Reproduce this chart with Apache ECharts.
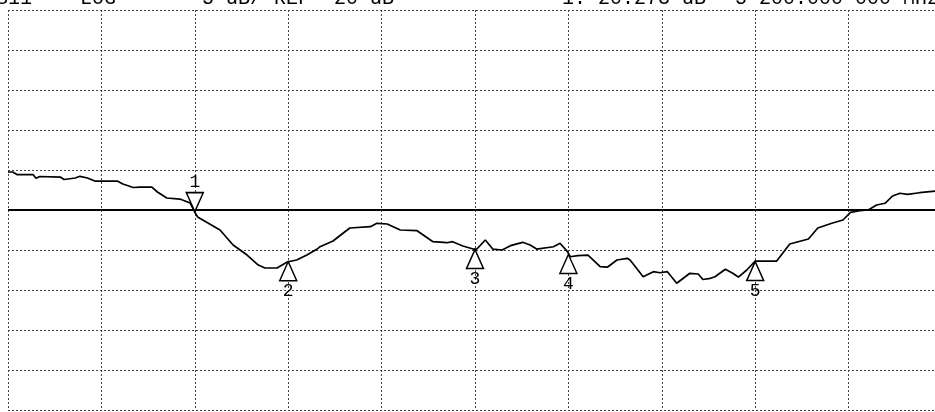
<!DOCTYPE html>
<html>
<head>
<meta charset="utf-8">
<script src="https://cdn.jsdelivr.net/npm/echarts@6/dist/echarts.min.js"></script>
<style>
html,body{margin:0;padding:0;background:#fff;}
#chart{width:935px;height:412px;}
</style>
</head>
<body>
<div id="chart"></div>
<script>
// Frequency axis (MHz) and S11 trace (dB)
var freqMHz = [5000,5005,5010,5027,5030,5034,5056,5060,5072,5077,5085,5093,5117,5123,5134,5141,5154,5160,5170,5184,5195,5200,5203,5227,5241,5256,5268,5275,5288,5299,5309,5320,5331,5334,5348,5359,5366,5388,5395,5406,5420,5438,5455,5470,5476,5487,5498,5502,5511,5519,5529,5538,5551,5559,5566,5584,5591,5599,5602,5610,5621,5634,5642,5652,5663,5666,5673,5680,5691,5698,5706,5716,5730,5739,5744,5752,5757,5768,5776,5782,5791,5800,5805,5823,5837,5857,5867,5882,5894,5902,5912,5921,5930,5939,5947,5955,5963,5976,5993,6000];
var s11dB = [-15.25,-15.25,-15.59,-15.59,-16.04,-15.81,-15.88,-16.19,-16.0,-15.79,-16.0,-16.38,-16.38,-16.75,-17.19,-17.13,-17.13,-17.75,-18.5,-18.63,-19.13,-20.27,-20.88,-22.5,-24.38,-25.63,-26.88,-27.25,-27.25,-26.5,-26.25,-25.63,-24.88,-24.59,-23.88,-22.88,-22.25,-22.09,-21.66,-21.75,-22.5,-22.59,-23.96,-24.09,-23.96,-24.5,-24.88,-24.88,-23.75,-24.88,-25.0,-24.46,-24.04,-24.38,-24.88,-24.59,-24.16,-25.21,-25.84,-25.71,-25.63,-27.09,-27.13,-26.25,-26.04,-26.25,-27.29,-28.34,-27.71,-27.84,-27.71,-29.16,-27.91,-28.0,-28.69,-28.54,-28.34,-27.41,-27.91,-28.38,-27.5,-26.38,-26.38,-26.38,-24.25,-23.63,-22.25,-21.66,-21.25,-20.29,-20.09,-20.0,-19.38,-19.16,-18.25,-17.91,-18.04,-17.84,-17.63,-17.6];

// Markers
var markerNames = ['1','2','3','4','5'];
var markerFreq = [5200,5300,5500,5600,5800];
var markerVal = [-20.27,-26.4,-24.88,-25.5,-26.38];

// Header texts
var headerTexts = ['S11','LOG','5 dB/ REF -20 dB','1:-20.273 dB','5 200.000 000 MHz'];
var headerX = [-4, 80, 202, 562, 735];

var refLevel = -20;
var xMin = 5000, xMax = 6000, xStep = 100;
var yMin = -45, yMax = 5, yStep = 5;

var chart = echarts.init(document.getElementById('chart'), null, {renderer:'canvas'});

var seriesData = freqMHz.map(function(f,i){return [f, s11dB[i]];});
var mpData = markerFreq.map(function(f,i){
  var down = i === 0;
  return {
    name: markerNames[i],
    coord: [f, markerVal[i]],
    symbol: 'triangle',
    symbolSize: [17, 19],
    symbolRotate: down ? 180 : 0,
    symbolOffset: [0, down ? -10 : 10],
    label: {
      show: true,
      formatter: markerNames[i],
      position: down ? 'top' : 'bottom',
      distance: 1,
      color: '#000',
      fontFamily: 'Liberation Mono',
      fontSize: 18
    }
  };
});

var graphics = headerTexts.map(function(t,i){
  return {
    type: 'text',
    left: headerX[i],
    top: -11,
    style: {
      text: t,
      fill: '#000',
      font: '20px "Liberation Mono"'
    }
  };
});

chart.setOption({
  animation: false,
  backgroundColor: '#fff',
  grid: {left: 8, top: 10, width: 934, height: 400, outerBoundsMode: 'none', containLabel: false},
  xAxis: {
    type: 'value', min: xMin, max: xMax, interval: xStep,
    axisLine: {show:false}, axisTick: {show:false}, axisLabel: {show:false},
    splitLine: {show:true, lineStyle:{color:'#444', type:[2,2], width:1}}
  },
  yAxis: {
    type: 'value', min: yMin, max: yMax, interval: yStep,
    axisLine: {show:false}, axisTick: {show:false}, axisLabel: {show:false},
    splitLine: {show:true, lineStyle:{color:'#444', type:[2,2], width:1}}
  },
  graphic: graphics,
  series: [{
    type: 'line',
    data: seriesData,
    showSymbol: false,
    lineStyle: {color:'#000', width:1.7},
    z: 5,
    markLine: {
      silent: true,
      symbol: ['none','none'],
      label: {show:false},
      lineStyle: {color:'#000', width:2, type:'solid'},
      data: [{yAxis: refLevel}]
    },
    markPoint: {
      silent: true,
      itemStyle: {color:'#fff', borderColor:'#000', borderWidth:1.5},
      data: mpData
    }
  }]
});
</script>
</body>
</html>
